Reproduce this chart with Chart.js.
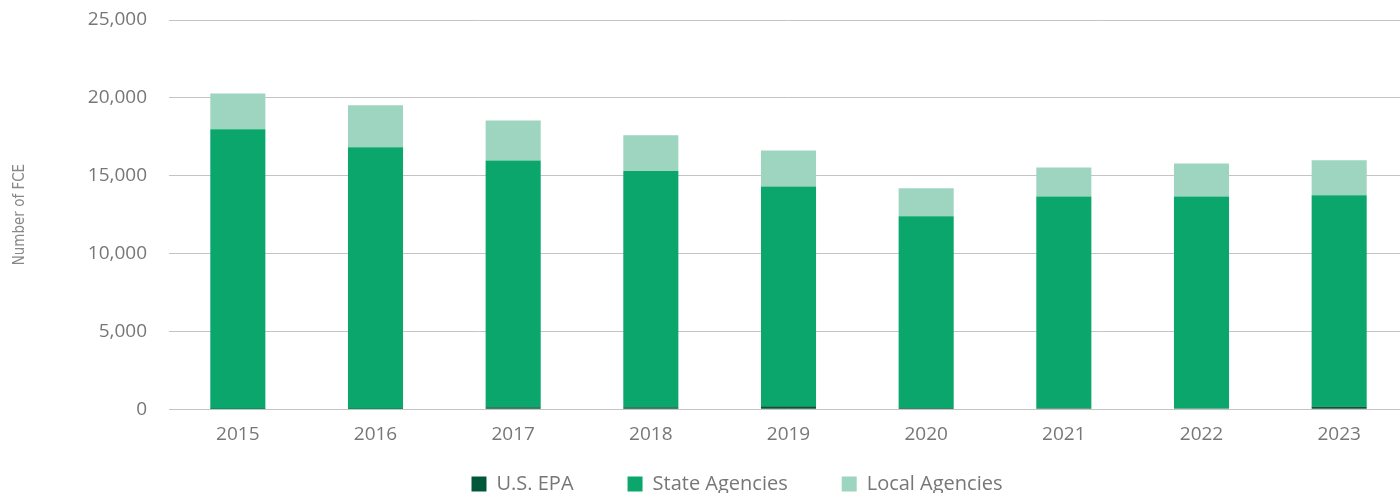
<!DOCTYPE html>
<html>
<head>
<meta charset="utf-8">
<script src="https://cdn.jsdelivr.net/npm/chart.js@4.4.1/dist/chart.umd.min.js"></script>
<style>
  html, body { margin: 0; padding: 0; background: #fff; overflow: hidden; }
  #wrap { position: relative; width: 1408px; height: 544px; }
</style>
</head>
<body>
<div id="wrap"><canvas id="fceChart"></canvas></div>
<script>
const years = ['2015', '2016', '2017', '2018', '2019', '2020', '2021', '2022', '2023'];
const epa =   [10, 10, 130, 130, 190, 70, 60, 50, 170];
const state = [17970, 16810, 15850, 15170, 14120, 12320, 13610, 13620, 13570];
const local = [2300, 2700, 2570, 2290, 2310, 1800, 1860, 2120, 2250];

const textGray = '#777777';
const tickFont = { family: "'Open Sans', 'Noto Sans', sans-serif", size: 19 };

// the reference legend sits a bit right of centre and tighter under the axis
const legendNudge = {
  id: 'legendNudge',
  afterLayout(chart) {
    const lg = chart.legend;
    lg.left += 33; lg.right += 33;
    lg.top -= 40; lg.bottom -= 40;
  }
};

new Chart(document.getElementById('fceChart'), {
  type: 'bar',
  data: {
    labels: years,
    datasets: [
      { label: 'U.S. EPA', data: epa, backgroundColor: '#00573a' },
      { label: 'State Agencies', data: state, backgroundColor: '#0aa66b' },
      { label: 'Local Agencies', data: local, backgroundColor: '#9dd5c0' }
    ]
  },
  options: {
    responsive: true,
    maintainAspectRatio: false,
    animation: false,
    devicePixelRatio: 1,
    layout: { padding: { top: 20, right: 0, bottom: 0, left: 0 } },
    datasets: { bar: { barPercentage: 0.4, categoryPercentage: 1 } },
    plugins: {
      tooltip: { enabled: false },
      legend: {
        position: 'bottom',
        labels: {
          boxWidth: 15,
          boxHeight: 15,
          padding: 54,
          color: textGray,
          font: { family: "'Open Sans', 'Noto Sans', sans-serif", size: 20 }
        }
      }
    },
    scales: {
      x: {
        stacked: true,
        grid: { display: false, drawTicks: false },
        border: { display: false },
        ticks: { color: textGray, font: tickFont, padding: 14, maxRotation: 0 }
      },
      y: {
        stacked: true,
        min: 0,
        max: 25000,
        afterFit: (s) => { s.width = 169; s.paddingTop = 0; },
        grid: { color: '#c4c4c4', lineWidth: 1, drawTicks: false },
        border: { display: false },
        ticks: {
          stepSize: 5000,
          padding: 22,
          color: textGray,
          font: tickFont,
          callback: (v) => v.toLocaleString('en-US')
        },
        title: {
          display: true,
          text: 'Number of FCE',
          color: '#888888',
          padding: { top: 11, bottom: 0 },
          font: { family: "'Liberation Sans Narrow', 'DejaVu Sans Condensed', sans-serif", size: 15 }
        }
      }
    }
  },
  plugins: [legendNudge]
});
</script>
</body>
</html>
